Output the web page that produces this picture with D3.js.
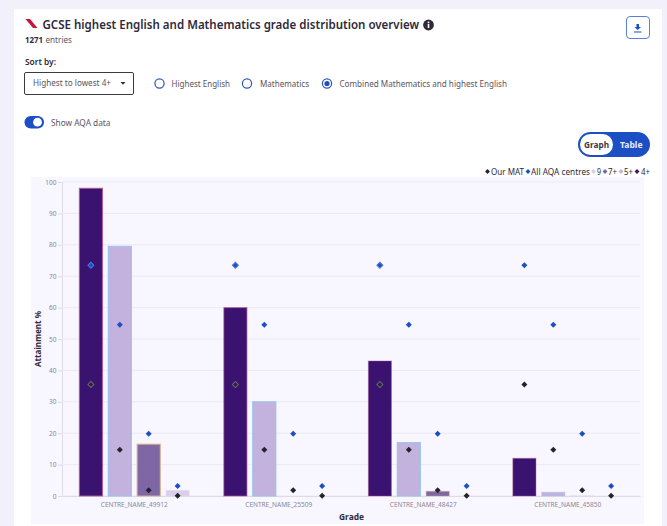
<!DOCTYPE html>
<html><head><meta charset="utf-8">
<script src="https://cdn.jsdelivr.net/npm/d3@7/dist/d3.min.js"></script>
<style>html,body{margin:0;padding:0;background:#f2f0fa;overflow:hidden}svg{display:block}text{font-family:"Noto Sans",sans-serif}</style>
</head><body><div id="c"></div>
<script>
const centres=["CENTRE_NAME_49912","CENTRE_NAME_25509","CENTRE_NAME_48427","CENTRE_NAME_45850"];
const grades=["4+","5+","7+","9"];
const grade4=[98,60,43,12];
const grade5=[79.5,30,17,1.2];
const grade7=[16.5,0,1.5,0.2];
const grade9=[1.8,0,0,0];
const aqa=[73.5,54.5,19.8,3.2];
const mat=[35.5,14.7,1.8,0.1];
const yTicks=[0,10,20,30,40,50,60,70,80,90,100];
const legendLabels=["Our MAT","All AQA centres","9","7+","5+","4+"];
const legendColors=["#2b2430","#1d4fc4","#d9cfec","#7f66a5","#c3b2de","#3a1270"];
const sortOptions=["Highest English","Mathematics","Combined Mathematics and highest English"];
const fills={"4+":"#3a1270","5+":"#c3b2de","7+":"#7f66a5","9":"#d9cfec"};
const strokes={"4+":"#b9588f","5+":"#93c4ee","7+":"#d6b08a","9":"#e4dcf2"};
const barValues={"4+":grade4,"5+":grade5,"7+":grade7,"9":grade9};
const darkStrokeOpacity=[0.95,0.7,0.4,0.45];

const svg=d3.select("#c").append("svg").attr("width",667).attr("height",526);
svg.append("rect").attr("x",14).attr("y",9).attr("width",648).attr("height",517).attr("fill","#fff");

const ink="#2f2a3a", grey="#5a5563";
function txt(x,y,s,size,w,col,len,anchor){
  const t=svg.append("text").attr("x",x).attr("y",y).text(s).attr("font-size",size).attr("font-weight",w||400).attr("fill",col||ink).attr("text-anchor",anchor||"start");
  if(len)t.attr("textLength",len).attr("lengthAdjust","spacingAndGlyphs");
  return t;
}

// header
svg.append("path").attr("d","M25.500 19 L30 19 L37.500 28 L33 28 Z").attr("fill","#c8123e");
txt(42.5,29,"GCSE highest English and Mathematics grade distribution overview",12.5,600,ink,376.5);
svg.append("circle").attr("cx",428.5).attr("cy",25).attr("r",5.4).attr("fill",ink);
svg.append("rect").attr("x",427.7).attr("y",24).attr("width",1.6).attr("height",4).attr("fill","#fff");
svg.append("rect").attr("x",427.7).attr("y",21.6).attr("width",1.6).attr("height",1.6).attr("fill","#fff");
txt(25,42.5,"1271",8.5,700,ink,18);
txt(45.5,42.5,"entries",8.5,400,grey,26.5);
// download
svg.append("rect").attr("x",626.5).attr("y",16.5).attr("width",23).attr("height",22).attr("rx",3.5).attr("fill","#fff").attr("stroke","#5a80d8");
svg.append("path").attr("d","M636.500 24 h2.500 v3 h2 l-3.250 3 l-3.250 -3 h2 Z M634 31.500 h7.500 v1 h-7.500 Z").attr("fill","#1d4fc4");
// sort
txt(25,65,"Sort by:",9,600,ink,31);
svg.append("rect").attr("x",24.5).attr("y",72.5).attr("width",109).attr("height",22).attr("rx",1.5).attr("fill","#fff").attr("stroke","#3a3a44");
txt(33,86,"Highest to lowest 4+",9,400,grey,78);
svg.append("path").attr("d","M120.500 82 h5 l-2.500 2.700 Z").attr("fill",ink);
// radios
const radioX=[159.5,247,327], radioTextX=[171.5,260,339.5], radioLen=[58.5,49,167.5];
sortOptions.forEach((s,i)=>{
  svg.append("circle").attr("cx",radioX[i]).attr("cy",83.5).attr("r",4.6).attr("fill","#fff").attr("stroke","#2f55b8").attr("stroke-width",1.2);
  if(i==2)svg.append("circle").attr("cx",radioX[i]).attr("cy",83.5).attr("r",2.6).attr("fill","#1d4fc4");
  txt(radioTextX[i],87,s,9,400,grey,radioLen[i]);
});
// toggle
svg.append("rect").attr("x",24.5).attr("y",116).attr("width",19.5).attr("height",12.5).attr("rx",6.25).attr("fill","#1d4fc4");
svg.append("circle").attr("cx",37.5).attr("cy",122.2).attr("r",4.4).attr("fill","#fff");
txt(51,126,"Show AQA data",9,400,grey,59.5);
// graph/table switch
svg.append("rect").attr("x",578).attr("y",132).attr("width",72).attr("height",25).attr("rx",12.5).attr("fill","#1d4fc4");
svg.append("rect").attr("x",580).attr("y",134).attr("width",33).attr("height",21).attr("rx",10.5).attr("fill","#fff");
txt(584,148,"Graph",9,700,"#3a3a44",25);
txt(620,148,"Table",9,700,"#e8ecfa",22.5);

// chart background
svg.append("rect").attr("x",31).attr("y",177).attr("width",613).attr("height",347).attr("fill","#f8f6fe");

const margin={l:62,r:640,t:182,b:496};
const x0=d3.scaleBand().domain(centres).range([margin.l,margin.r]).paddingInner(0.2).paddingOuter(0.1);
const x1=d3.scaleBand().domain(grades).range([0,x0.bandwidth()]).paddingInner(0.2).paddingOuter(0.1);
const y=d3.scaleLinear().domain([0,100]).range([margin.b,margin.t]);

// grid + axes via d3.axis
const gy=svg.append("g").attr("transform",`translate(${margin.l},0)`).call(d3.axisLeft(y).tickValues(yTicks).tickSize(4).tickPadding(1.5));
gy.select(".domain").attr("stroke","#dedbe6");
gy.selectAll(".tick line").attr("stroke","#dedbe6");
gy.selectAll("text").attr("font-size",6.5).attr("fill","#8b8894").attr("font-family","Liberation Sans, sans-serif");
svg.append("g").selectAll("line").data(yTicks).join("line").attr("x1",margin.l).attr("x2",margin.r).attr("y1",d=>y(d)).attr("y2",d=>y(d)).attr("stroke","#ece9f3").attr("stroke-width",1);
const gx=svg.append("g").attr("transform",`translate(0,${margin.b})`).call(d3.axisBottom(x0).tickSize(0).tickPadding(6));
gx.select(".domain").attr("stroke","#dedbe6");
gx.selectAll("text").attr("font-size",6.5).attr("fill","#8b8894").attr("font-family","Liberation Sans, sans-serif");

// bars
const rows=centres.flatMap((c,i)=>grades.map(g=>({c,i,g,v:barValues[g][i]})));
svg.append("g").selectAll("rect").data(rows).join("rect")
  .attr("x",d=>x0(d.c)+x1(d.g)).attr("width",x1.bandwidth())
  .attr("y",d=>y(d.v)).attr("height",d=>y(0)-y(d.v))
  .attr("fill",d=>d.v<1?"#e4dff0":fills[d.g])
  .attr("stroke",d=>d.v<1?"none":strokes[d.g]).attr("stroke-width",1)
  .attr("stroke-opacity",d=>d.g==="4+"?darkStrokeOpacity[d.i]:(d.v<2?0.4:1));

// markers: squares rotated to lie on a corner
const marker=d3.symbol().type(d3.symbolSquare).size(18);
function markers(arr,col,halo){
  const pts=centres.flatMap(c=>grades.map((g,i)=>({c,g,v:arr[i]})));
  svg.append("g").selectAll("path").data(pts).join("path")
    .attr("d",marker)
    .attr("transform",d=>`translate(${x0(d.c)+x1(d.g)+x1.bandwidth()/2},${y(d.v)}) rotate(45)`)
    .attr("fill",col)
    .attr("stroke",d=>(d.g=="4+"&&d.c!==centres[3])?halo:"none").attr("stroke-width",1);
}
markers(aqa,"#1d4fc4","#4a78d8");
markers(mat,"#26222c","#6b6675");

// axis titles
svg.append("text").attr("transform","translate(40.5,339) rotate(-90)").attr("text-anchor","middle").attr("font-size",8.5).attr("font-weight",700).attr("fill",ink).attr("textLength",56).attr("lengthAdjust","spacingAndGlyphs").text("Attainment %");
txt(339,520,"Grade",8.5,700,ink,25);

// legend
const legendMarkX=[487.5,528,593.5,605,621,637];
const legendTextX=[491,531,597,608,624,641];
const legendLen=[33,59,4,9,9,9];
const leg=svg.append("g");
legendLabels.forEach((s,i)=>{
  leg.append("path").attr("d",d3.symbol().type(d3.symbolSquare).size(12)).attr("transform",`translate(${legendMarkX[i]},171.5) rotate(45)`).attr("fill",legendColors[i]);
  leg.append("text").attr("x",legendTextX[i]).attr("y",174.5).attr("font-size",8.5).attr("fill",ink).attr("textLength",legendLen[i]).attr("lengthAdjust","spacingAndGlyphs").text(s);
});
</script></body></html>
